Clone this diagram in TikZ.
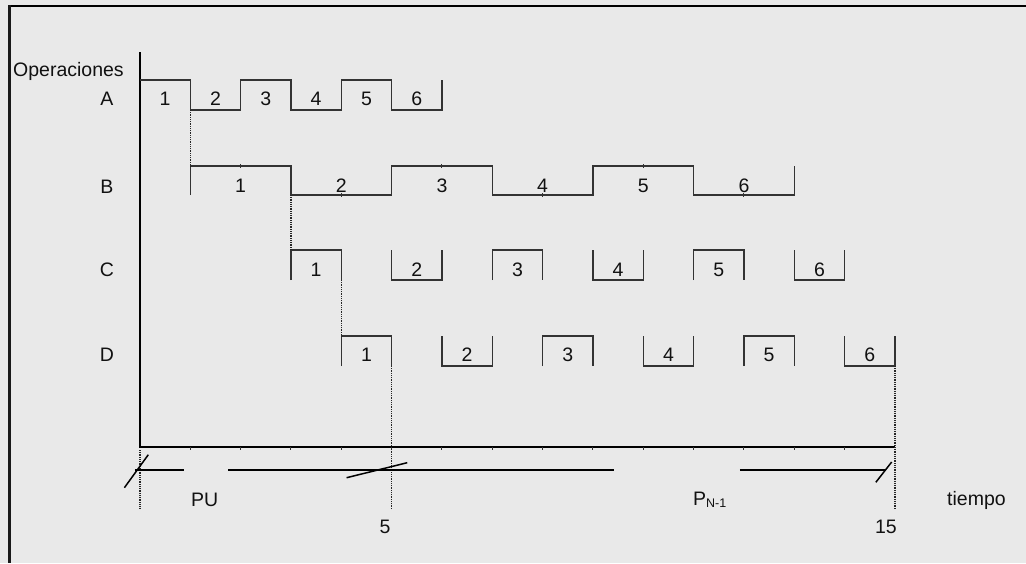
\documentclass[tikz,border=0pt]{standalone}
\usepackage{fontspec}
\setmainfont{Liberation Sans}
\definecolor{bg}{HTML}{E9E9E9}
\definecolor{ink}{HTML}{111111}
\definecolor{rowc}{HTML}{333333}
\begin{document}
\begin{tikzpicture}[x=1pt,y=-1pt,
  txt/.style={font=\fontsize{19.5}{22}\selectfont, text=ink, inner sep=0pt},
  rowline/.style={draw=rowc, line width=1.1pt, line join=miter},
  axisline/.style={draw=black, line width=1.4pt},
  guide/.style={draw=black!85, line width=1.6pt, dash pattern=on 1pt off 0.8pt},
  brk/.style={draw=black, line width=2.5pt},
  slash/.style={draw=black, line width=1.5pt},
  tickm/.style={draw=rowc, line width=1pt}]
\useasboundingbox (0,0) rectangle (1026,563);
\fill[bg] (0,0) rectangle (1026,563);
\draw[black, line width=2pt] (8,6) -- (1026,6);
\draw[black!90, line width=3pt] (9,5) -- (9,563);

% left labels
\node[txt, anchor=base west] (ops) at (13,76) {Operaciones};
\node[txt, anchor=base] (lA) at (107,105) {A};
\node[txt, anchor=base] (lB) at (107,193) {B};
\node[txt, anchor=base] (lC) at (107,276) {C};
\node[txt, anchor=base] (lD) at (107,361) {D};
% bottom labels
\node[txt, anchor=base west] (pu) at (191,506) {PU};
\node[txt, anchor=base] (t5) at (385,533) {5};
\node[txt, anchor=base east] (t15) at (897,533) {15};
\node[txt, anchor=base west] (pn) at (693,505) {P\raisebox{-2pt}{\fontsize{12.5}{13}\selectfont N-1}};
\node[txt, anchor=base west] (tiempo) at (947,505) {tiempo};

\begin{scope}[xshift=140pt, x=50.33pt]
  % axes
  \coordinate (top) at (0,52);
  \coordinate (o) at (0,447);
  \coordinate (xend) at (15,447);
  \draw[axisline] (top) -- (o) -- (xend);
  \foreach \t in {1,...,14} \draw[tickm] (\t,447) -- (\t,450);

  % row A
  \draw[rowline] (0,80) -- (1,80) -- (1,110) -- (2,110) -- (2,80) -- (3,80) -- (3,110)
     -- (4,110) -- (4,80) -- (5,80) -- (5,110) -- (6,110) -- (6,80);
  \coordinate (a1end) at (1,110);
  \foreach \i in {1,...,6} \node[txt, anchor=base] (A\i) at (\i-0.5,105) {\i};

  % row B
  \draw[rowline] (1,195) -- (1,166) -- (3,166) -- (3,195) -- (5,195) -- (5,166) -- (7,166)
     -- (7,195) -- (9,195) -- (9,166) -- (11,166) -- (11,195) -- (13,195) -- (13,166);
  \coordinate (b1start) at (1,166);
  \coordinate (b1end) at (3,195);
  \foreach \t in {2,6,10} \draw[tickm] (\t,164) -- (\t,168);
  \foreach \t in {4,8,12} \draw[tickm] (\t,193) -- (\t,197);
  \foreach \i in {1,...,6} \node[txt, anchor=base] (B\i) at (2*\i,192) {\i};

  % row C
  \foreach \s in {3,7,11} \draw[rowline] (\s,280) -- (\s,250) -- (\s+1,250) -- (\s+1,280);
  \foreach \s in {5,9,13} \draw[rowline] (\s,250) -- (\s,280) -- (\s+1,280) -- (\s+1,250);
  \coordinate (c1start) at (3,250);
  \coordinate (c1end) at (4,280);
  \foreach \i in {1,...,6} \node[txt, anchor=base] (C\i) at (2*\i+1.5,276) {\i};

  % row D
  \foreach \s in {4,8,12} \draw[rowline] (\s,366) -- (\s,336) -- (\s+1,336) -- (\s+1,366);
  \foreach \s in {6,10,14} \draw[rowline] (\s,336) -- (\s,366) -- (\s+1,366) -- (\s+1,336);
  \coordinate (d1start) at (4,336);
  \coordinate (d1end) at (5,366);
  \coordinate (d6end) at (15,366);
  \foreach \i in {1,...,6} \node[txt, anchor=base] (D\i) at (2*\i+2.5,361) {\i};

  % dotted guides
  \coordinate (g0) at (0,509);
  \coordinate (g5) at (5,509);
  \coordinate (g15) at (15,509);
  \draw[guide] (a1end) -- (b1start);
  \draw[guide] (b1end) -- (c1start);
  \draw[guide] (c1end) -- (d1start);
  \draw[guide] (d1end) -- (g5);
  \draw[guide] (d6end) -- (g15);
  \draw[guide] (0,450) -- (g0);

  % bracket line
  \draw[brk] (-0.1,470) -- (0.87,470);
  \draw[brk] (1.75,470) -- (9.41,470);
  \draw[brk] (11.92,470) -- (14.80,470);
  \draw[slash] (-0.31,487.7) -- (0.165,454.7);
  \draw[slash] (4.105,477.7) -- (5.31,462.7);
  \draw[slash] (14.62,482.3) -- (14.935,462);
\end{scope}
\end{tikzpicture}
\end{document}
